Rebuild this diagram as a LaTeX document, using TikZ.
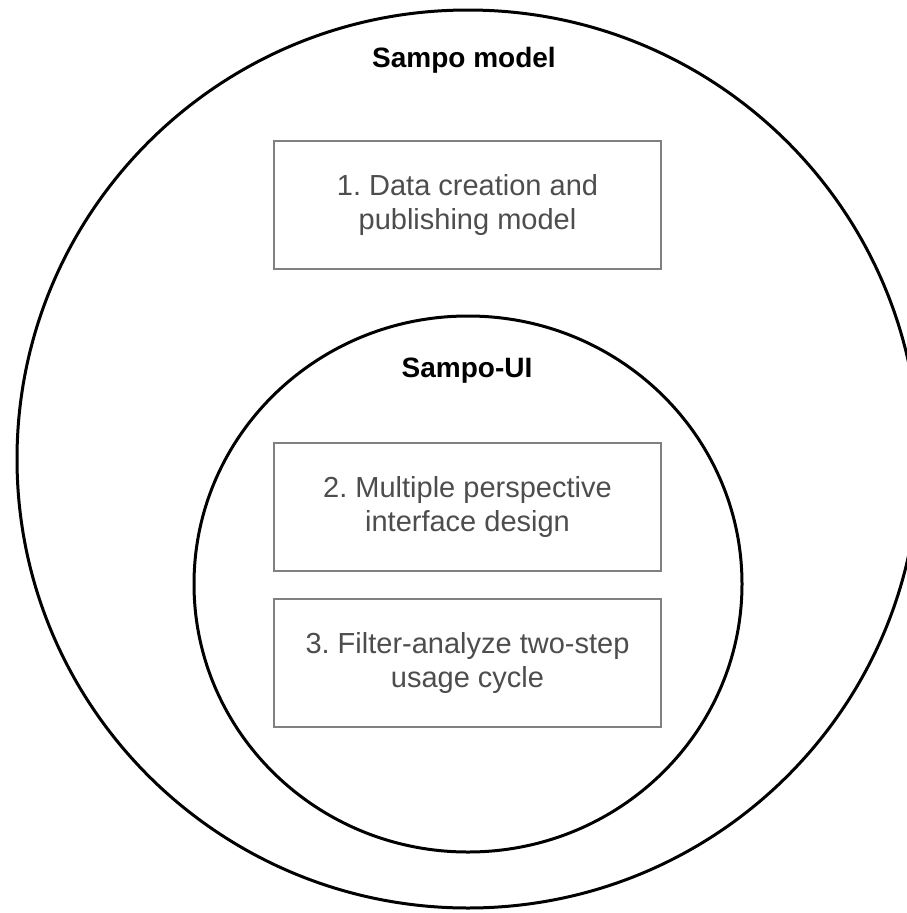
\documentclass[tikz,border=0pt]{standalone}
\usepackage{fontspec}
\setmainfont{Liberation Sans}
\usetikzlibrary{shapes.geometric}
\definecolor{boxgray}{HTML}{808080}
\definecolor{textgray}{HTML}{4D4D4D}
\frenchspacing
\begin{document}
\begin{tikzpicture}[x=1pt,y=-1pt,
  ring/.style={draw=black, line width=3pt, ellipse, inner sep=0pt},
  stepbox/.style={draw=boxgray, line width=2pt, minimum width=387pt, minimum height=128pt,
    inner sep=0pt, align=center, text=textgray, font=\fontsize{29}{34}\selectfont},
  title/.style={anchor=base, inner sep=0pt, text=black, font=\fontsize{28}{34}\selectfont\bfseries}]
\useasboundingbox (0,0) rectangle (907,913);
\clip (0,0) rectangle (907,913);
\fill[white] (0,0) rectangle (907,913);
\node[ring, minimum width=902pt, minimum height=898pt] (outer) at (468,459) {};
\node[ring, minimum width=548pt, minimum height=536pt] (inner) at (468,584) {};
\node[title] (t1) at (464,67) {Sampo model};
\node[title] (t2) at (467,377) {Sampo-UI};
\node[stepbox] (b1) at (467.5,205) {1. Data creation and\\publishing model};
\node[stepbox] (b2) at (467.5,507) {2. Multiple perspective\\interface design};
\node[stepbox] (b3) at (467.5,663) {3. Filter-analyze two-step\\usage cycle};
\end{tikzpicture}
\end{document}
